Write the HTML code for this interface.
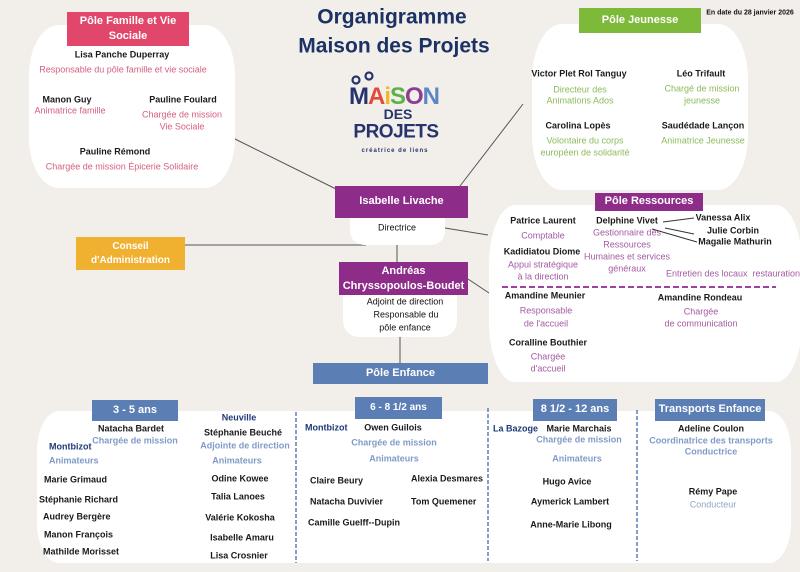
<!DOCTYPE html>
<html><head><meta charset="utf-8">
<style>
*{margin:0;padding:0;box-sizing:border-box}
html,body{width:800px;height:572px;overflow:hidden;background:#f2efea}
body{position:relative;font-family:"Liberation Sans",Arial,sans-serif}
.a{position:absolute}
.t{position:absolute;white-space:nowrap;transform:translate(-50%,-50%);line-height:1;font-size:9px}
.l{position:absolute;white-space:nowrap;transform:translate(0,-50%);line-height:1;font-size:9px}
.b{font-weight:bold;color:#1a1a1a}
.pk{color:#d4607e}
.gr{color:#8bbb5a}
.pu{color:#a35ba3}
.bl{color:#7f9bc8;font-weight:bold}
.nv{color:#1f3a78;font-weight:bold}
.hd{position:absolute;color:#fff;font-weight:bold;display:flex;align-items:center;justify-content:center;text-align:center;line-height:1.4}
.blue{background:#5b7fb5}
</style></head><body>

<svg class="a" style="left:0;top:0" width="800" height="572">
  <g stroke="#555" stroke-width="1" fill="none">
    <line x1="233" y1="138" x2="336" y2="189"/>
    <line x1="523" y1="104" x2="460" y2="186"/>
    <line x1="445" y1="228" x2="488" y2="235"/>
    <line x1="185" y1="245" x2="366" y2="245"/>
    <line x1="397" y1="245" x2="397" y2="262"/>
    <line x1="468" y1="279" x2="492" y2="295"/>
    <line x1="400" y1="337" x2="400" y2="363"/>
  </g>
</svg>

<!-- Title -->
<div class="t" style="left:392px;top:17px;font-size:21px;font-weight:bold;color:#1c3264">Organigramme</div>
<div class="t" style="left:394px;top:46px;font-size:21px;font-weight:bold;color:#1c3264">Maison des Projets</div>
<div class="t" style="left:750px;top:13px;font-size:7px;font-weight:bold;color:#111">En date du 28 janvier 2026</div>

<!-- Logo -->
<div class="t" style="left:394px;top:97px;font-size:24px;font-weight:bold;letter-spacing:-1px"><span style="color:#27336e">M</span><span style="color:#e34a3a">A</span><span style="color:#f2b629">i</span><span style="color:#5ab24a">S</span><span style="color:#8d3d93">O</span><span style="color:#5a86c4">N</span></div>
<svg class="a" style="left:350px;top:70px" width="30" height="16"><circle cx="6" cy="10" r="3.5" fill="none" stroke="#27336e" stroke-width="2.2"/><circle cx="19" cy="6" r="3.5" fill="none" stroke="#27336e" stroke-width="2.2"/></svg>
<div class="t" style="left:398px;top:114px;font-size:14px;font-weight:bold;color:#27336e">DES</div>
<div class="t" style="left:396px;top:132px;font-size:19px;font-weight:bold;color:#27336e;letter-spacing:-0.5px">PROJETS</div>
<div class="t" style="left:395px;top:151px;font-size:6px;font-weight:bold;color:#27336e;letter-spacing:1px">créatrice de liens</div>

<!-- Pôle Famille -->
<div class="a" style="left:29px;top:25px;width:206px;height:163px;background:#fff;border-radius:30px/50px"></div>
<div class="hd" style="left:67px;top:12px;width:122px;height:34px;background:#e0476a;font-size:11px">Pôle Famille et Vie<br>Sociale</div>
<div class="t b" style="left:122px;top:55px">Lisa Panche Duperray</div>
<div class="t pk" style="left:123px;top:70px">Responsable du pôle famille et vie sociale</div>
<div class="t b" style="left:67px;top:100px">Manon Guy</div>
<div class="t pk" style="left:70px;top:111px">Animatrice famille</div>
<div class="t b" style="left:183px;top:100px">Pauline Foulard</div>
<div class="t pk" style="left:182px;top:115px">Chargée de mission</div>
<div class="t pk" style="left:182px;top:127px">Vie Sociale</div>
<div class="t b" style="left:115px;top:152px">Pauline Rémond</div>
<div class="t pk" style="left:122px;top:167px">Chargée de mission Épicerie Solidaire</div>

<!-- Pôle Jeunesse -->
<div class="a" style="left:532px;top:24px;width:216px;height:166px;background:#fff;border-radius:30px/55px"></div>
<div class="hd" style="left:579px;top:8px;width:122px;height:25px;background:#7dba3a;font-size:11px">Pôle Jeunesse</div>
<div class="t b" style="left:579px;top:74px">Victor Plet Rol Tanguy</div>
<div class="t gr" style="left:580px;top:90px">Directeur des</div>
<div class="t gr" style="left:580px;top:101px">Animations Ados</div>
<div class="t b" style="left:701px;top:74px">Léo Trifault</div>
<div class="t gr" style="left:702px;top:89px">Chargé de mission</div>
<div class="t gr" style="left:702px;top:101px">jeunesse</div>
<div class="t b" style="left:578px;top:126px">Carolina Lopès</div>
<div class="t gr" style="left:585px;top:141px">Volontaire du corps</div>
<div class="t gr" style="left:585px;top:153px">européen de solidarité</div>
<div class="t b" style="left:703px;top:126px">Saudédade Lançon</div>
<div class="t gr" style="left:703px;top:141px">Animatrice Jeunesse</div>

<!-- Directrice -->
<div class="a" style="left:350px;top:214px;width:95px;height:31px;background:#fff;border-radius:0 0 14px 14px"></div>
<div class="hd" style="left:335px;top:186px;width:133px;height:32px;background:#8e2c8a;font-size:11px">Isabelle Livache</div>
<div class="t" style="left:397px;top:228px;color:#111">Directrice</div>

<!-- Conseil -->
<div class="hd" style="left:76px;top:237px;width:109px;height:33px;background:#f0b030;font-size:10px;line-height:1.35">Conseil<br>d'Administration</div>

<!-- Andréas -->
<div class="a" style="left:343px;top:290px;width:114px;height:47px;background:#fff;border-radius:0 0 16px 16px"></div>
<div class="hd" style="left:339px;top:262px;width:129px;height:33px;background:#8e2c8a;font-size:11px;line-height:1.3">Andréas<br>Chryssopoulos-Boudet</div>
<div class="t" style="left:405px;top:302px;color:#111">Adjoint de direction</div>
<div class="t" style="left:406px;top:315px;color:#111">Responsable du</div>
<div class="t" style="left:405px;top:328px;color:#111">pôle enfance</div>

<!-- Pôle Enfance -->
<div class="hd blue" style="left:313px;top:363px;width:175px;height:21px;font-size:11px">Pôle Enfance</div>

<!-- Pôle Ressources -->
<div class="a" style="left:489px;top:205px;width:313px;height:177px;background:#fff;border-radius:26px/60px"></div>
<div class="hd" style="left:595px;top:193px;width:108px;height:18px;background:#8e2c8a;font-size:11px">Pôle Ressources</div>
<div class="t b" style="left:543px;top:221px">Patrice Laurent</div>
<div class="t pu" style="left:543px;top:236px">Comptable</div>
<div class="t b" style="left:542px;top:252px">Kadidiatou Diome</div>
<div class="t pu" style="left:543px;top:265px">Appui stratégique</div>
<div class="t pu" style="left:543px;top:277px">à la direction</div>
<div class="t b" style="left:627px;top:221px">Delphine Vivet</div>
<div class="t pu" style="left:627px;top:233px">Gestionnaire des</div>
<div class="t pu" style="left:627px;top:245px">Ressources</div>
<div class="t pu" style="left:627px;top:257px">Humaines et services</div>
<div class="t pu" style="left:627px;top:269px">généraux</div>
<div class="t b" style="left:723px;top:218px">Vanessa Alix</div>
<div class="t b" style="left:733px;top:231px">Julie Corbin</div>
<div class="t b" style="left:735px;top:242px">Magalie Mathurin</div>
<svg class="a" style="left:0;top:0" width="800" height="572">
  <g stroke="#333" stroke-width="1">
    <line x1="663" y1="222" x2="694" y2="218"/>
    <line x1="665" y1="228" x2="694" y2="234"/>
    <line x1="652" y1="229" x2="697" y2="242"/>
  </g>
  <line x1="502" y1="287" x2="776" y2="287" stroke="#a040a0" stroke-width="2" stroke-dasharray="6,3"/>
</svg>
<div class="t pu" style="left:733px;top:274px">Entretien des locaux&nbsp; restauration</div>
<div class="t b" style="left:545px;top:296px">Amandine Meunier</div>
<div class="t pu" style="left:546px;top:311px">Responsable</div>
<div class="t pu" style="left:546px;top:324px">de l'accueil</div>
<div class="t b" style="left:700px;top:298px">Amandine Rondeau</div>
<div class="t pu" style="left:701px;top:312px">Chargée</div>
<div class="t pu" style="left:701px;top:324px">de communication</div>
<div class="t b" style="left:548px;top:343px">Coralline Bouthier</div>
<div class="t pu" style="left:548px;top:357px">Chargée</div>
<div class="t pu" style="left:548px;top:369px">d'accueil</div>

<!-- Bottom container -->
<div class="a" style="left:37px;top:411px;width:754px;height:152px;background:#fff;border-radius:22px/40px"></div>
<svg class="a" style="left:0;top:0" width="800" height="572">
  <g stroke="#5b7fb5" stroke-width="1.5" stroke-dasharray="4,2">
    <line x1="296" y1="412" x2="296" y2="563"/>
    <line x1="488" y1="408" x2="488" y2="561"/>
    <line x1="637" y1="410" x2="637" y2="561"/>
  </g>
</svg>
<div class="hd blue" style="left:92px;top:400px;width:86px;height:21px;font-size:11px">3 - 5 ans</div>
<div class="hd blue" style="left:355px;top:397px;width:87px;height:22px;font-size:10px">6 - 8 1/2 ans</div>
<div class="hd blue" style="left:533px;top:399px;width:84px;height:22px;font-size:11px">8 1/2 - 12 ans</div>
<div class="hd blue" style="left:655px;top:399px;width:110px;height:22px;font-size:11px">Transports Enfance</div>

<!-- 3-5 -->
<div class="t b" style="left:131px;top:429px">Natacha Bardet</div>
<div class="t bl" style="left:135px;top:441px">Chargée de mission</div>
<div class="l nv" style="left:49px;top:447px">Montbizot</div>
<div class="l bl" style="left:49px;top:461px">Animateurs</div>
<div class="l b" style="left:44px;top:480px">Marie Grimaud</div>
<div class="l b" style="left:39px;top:500px">Stéphanie Richard</div>
<div class="l b" style="left:43px;top:517px">Audrey Bergère</div>
<div class="l b" style="left:44px;top:535px">Manon François</div>
<div class="l b" style="left:43px;top:552px">Mathilde Morisset</div>
<div class="t nv" style="left:239px;top:418px">Neuville</div>
<div class="t b" style="left:243px;top:433px">Stéphanie Beuché</div>
<div class="t bl" style="left:245px;top:446px">Adjointe de direction</div>
<div class="t bl" style="left:237px;top:461px">Animateurs</div>
<div class="t b" style="left:240px;top:479px">Odine Kowee</div>
<div class="t b" style="left:238px;top:497px">Talia Lanoes</div>
<div class="t b" style="left:240px;top:518px">Valérie Kokosha</div>
<div class="t b" style="left:242px;top:538px">Isabelle Amaru</div>
<div class="t b" style="left:239px;top:556px">Lisa Crosnier</div>

<!-- 6-8 -->
<div class="l nv" style="left:305px;top:428px">Montbizot</div>
<div class="t b" style="left:393px;top:428px">Owen Guilois</div>
<div class="t bl" style="left:394px;top:443px">Chargée de mission</div>
<div class="t bl" style="left:394px;top:459px">Animateurs</div>
<div class="l b" style="left:310px;top:481px">Claire Beury</div>
<div class="l b" style="left:310px;top:502px">Natacha Duvivier</div>
<div class="l b" style="left:308px;top:523px">Camille Guelff--Dupin</div>
<div class="l b" style="left:411px;top:479px">Alexia Desmares</div>
<div class="l b" style="left:411px;top:502px">Tom Quemener</div>

<!-- 8-12 -->
<div class="l nv" style="left:493px;top:429px">La Bazoge</div>
<div class="t b" style="left:579px;top:429px">Marie Marchais</div>
<div class="t bl" style="left:579px;top:440px">Chargée de mission</div>
<div class="t bl" style="left:577px;top:459px">Animateurs</div>
<div class="t b" style="left:567px;top:482px">Hugo Avice</div>
<div class="t b" style="left:570px;top:502px">Aymerick Lambert</div>
<div class="t b" style="left:571px;top:525px">Anne-Marie Libong</div>

<!-- Transports -->
<div class="t b" style="left:711px;top:429px">Adeline Coulon</div>
<div class="t bl" style="left:711px;top:441px">Coordinatrice des transports</div>
<div class="t bl" style="left:711px;top:452px">Conductrice</div>
<div class="t b" style="left:713px;top:492px">Rémy Pape</div>
<div class="t" style="left:713px;top:505px;color:#8fa6c8">Conducteur</div>

</body></html>
